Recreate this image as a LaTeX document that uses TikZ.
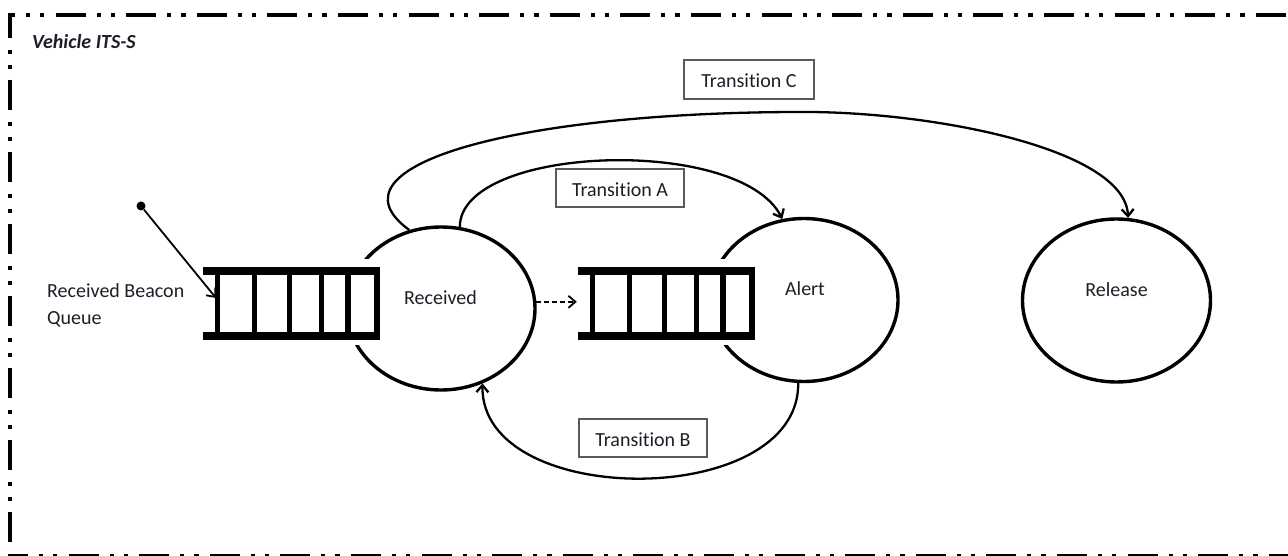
\documentclass[tikz,border=0pt]{standalone}
\usepackage{fontspec}
\setmainfont[Ligatures={NoCommon}]{Carlito}
\usetikzlibrary{shapes.geometric,arrows.meta}
\definecolor{txt}{RGB}{30,30,40}
\definecolor{boxgray}{RGB}{90,90,90}
\begin{document}
\begin{tikzpicture}[x=1pt,y=-1pt,
  every node/.style={font=\fontsize{20}{28}\selectfont, text=txt},
  state/.style={ellipse, draw, line width=3.4pt, minimum width=188pt, minimum height=163pt, inner sep=0pt},
  tbox/.style={draw=boxgray, line width=1.3pt, minimum width=128pt, minimum height=38pt, inner sep=0pt, text height=17pt, text depth=0pt, fill=white},
  barb/.style={-{Straight Barb[length=7pt,width=12pt]}},
  trans/.style={line width=2.3pt, barb},
  qmask/.style={fill=white, minimum width=180pt, minimum height=86pt, inner sep=0pt},
  hbar/.style={line width=7.5pt},
  vbar/.style={line width=5.5pt},
  bordertop/.style={line width=4pt, dash pattern=on 30pt off 11pt on 4pt off 10pt on 4.3pt off 11.3pt},
  borderside/.style={line width=4pt, dash pattern=on 30pt off 12pt on 4pt off 11pt on 4pt off 11pt},
]
\useasboundingbox (0,0) rectangle (1288,556);

% states
\node[state] (rec) at (441,308.5) {};
\node[state] (alert) at (804,300) {};
\node[state] (rel) at (1116.5,300.5) {};

% queues
\node[qmask] (q1) at (291.5,302) {};
\node[qmask] (q2) at (667,302) {};
\foreach \ox in {203,578} {
  \draw[hbar] (\ox,271) -- ++(177,0);
  \draw[hbar] (\ox,335.75) -- ++(177,0);
  \foreach \dx in {14.5,51.5,86.5,118.5,145,174}
    \draw[vbar] (\ox+\dx,271) -- (\ox+\dx,335.75);
}

% incoming beacon
\node[circle, fill=black, inner sep=0pt, minimum size=9pt] (src) at (141,206) {};
\coordinate (qin) at (216,298);
\draw[line width=1.8pt, barb] (src) -- (qin);

% dashed arrow
\draw[line width=1.8pt, dash pattern=on 5pt off 3pt, barb] (rec.4) -- (rec.4 -| q2.west);

% transitions
\draw[trans] (rec.77.5) .. controls (460,145) and (740,135) .. (alert.105.6);
\coordinate (cTop) at (810,112);
\draw[trans] (rec.112.3) .. controls (320,165) and (520,111) .. (cTop)
  .. controls (940,113) and (1125,150) .. (rel.82.2);
\draw[trans] (alert.266) .. controls (800,510) and (480,510) .. (rec.299);

% transition labels
\node[tbox] (tA) at (620,188) {Transition A};
\node[tbox] (tB) at (643,438) {Transition B};
\node[tbox, minimum width=130pt, minimum height=39pt] (tC) at (749,79.5) {Transition C};

% texts
\node[anchor=base, inner sep=0pt] (recT) at (440.5,304) {Received};
\node[anchor=base, inner sep=0pt] (alertT) at (805,295) {Alert};
\node[anchor=base, inner sep=0pt] (relT) at (1116.5,296) {Release};
\node[anchor=base west, inner sep=0pt] (vits) at (32,49) {\bfseries\itshape Vehicle ITS-S};
\node[anchor=base west, inner sep=0pt] (rbq) at (47,297) {\begin{tabular}[t]{@{}l@{}}Received Beacon\\Queue\end{tabular}};

% frame
\draw[bordertop, dash phase=23pt] (8,15) -- (1300,15);
\draw[borderside, dash phase=5pt] (10,13) -- (10,560);
\draw[bordertop, dash phase=10pt] (8,555.5) -- (1300,555.5);
\end{tikzpicture}
\end{document}
